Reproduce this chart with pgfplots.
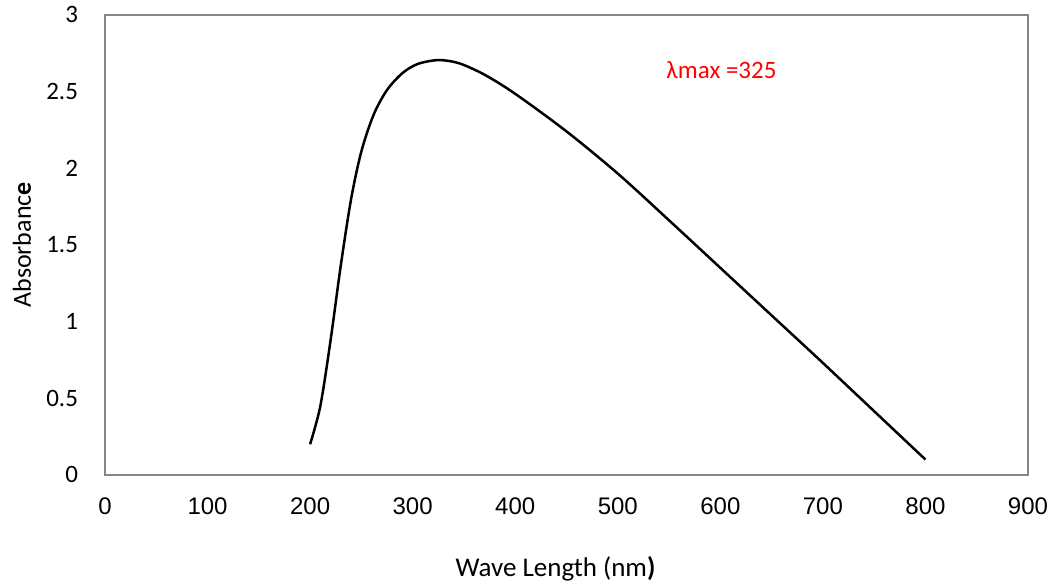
\documentclass[border=0pt]{standalone}
\usepackage{fontspec}
\setmainfont{Carlito}
\newfontfamily\arialfont{Liberation Sans}
\usepackage{pgfplots}
\pgfplotsset{compat=1.18}
\definecolor{framegray}{RGB}{134,134,134}

\begin{document}
\begin{tikzpicture}
\begin{axis}[
    name=ax,
    width=461.5pt, height=230pt,
    scale only axis,
    xmin=0, xmax=900, ymin=0, ymax=3,
    xtick={0,100,...,900},
    ytick={0,0.5,...,3},
    major tick length=0pt,
    axis line style={framegray, line width=0.8pt},
    /pgf/number format/assume math mode=true,
    tick label style={font=\fontsize{12.5}{14}\selectfont, black},
    xticklabel style={font=\arialfont\fontsize{12}{14}\selectfont, yshift=-8pt},
    yticklabel style={xshift=-10pt},
    xlabel={Wave Length (nm\textbf{)}},
    ylabel={Absorbanc\textbf{e}},
    xlabel style={font=\fontsize{13.5}{15}\selectfont, at={(axis description cs:0.5,0)}, anchor=center, yshift=-47pt, xshift=-5.5pt},
    every axis y label/.style={font=\fontsize{13}{15}\selectfont, at={(axis description cs:0,0.5)}, rotate=90, anchor=center, yshift=41.5pt},
]
\addplot[black, line width=1.25pt, smooth] coordinates {
(200,0.20) (210,0.45) (220,0.88) (230,1.37) (240,1.80) (250,2.11)
(262,2.35) (275,2.51) (290,2.62) (305,2.68) (325,2.705) (345,2.685)
(370,2.61) (400,2.485) (450,2.24) (500,1.965) (550,1.66) (600,1.35)
(650,1.04) (700,0.73) (750,0.415) (800,0.10)
};
\node[red, font=\fontsize{12.5}{14}\selectfont] at (axis cs:601,2.64) {λmax =325};
\end{axis}
\path[use as bounding box] ([shift={(-52.5pt,-56pt)}]ax.south west) rectangle ([shift={(14.5pt,6.5pt)}]ax.north east);
\end{tikzpicture}
\end{document}
